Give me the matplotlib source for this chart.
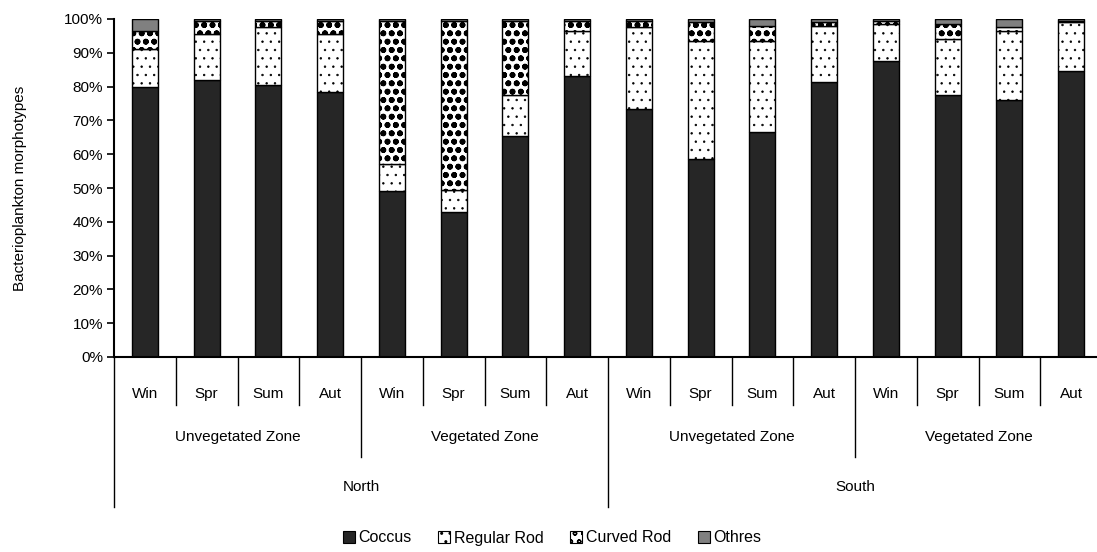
import matplotlib.pyplot as plt
import matplotlib.patches as mpatches
import matplotlib.transforms as mtransforms
import numpy as np

plt.rcParams['font.family'] = ['Liberation Sans', 'DejaVu Sans']

seasons = ['Win', 'Spr', 'Sum', 'Aut'] * 4
zones = ['Unvegetated Zone', 'Vegetated Zone', 'Unvegetated Zone', 'Vegetated Zone']
regions = ['North', 'South']

coccus = [80, 82, 80.5, 78.5, 49, 43, 65.5, 83,
          73.5, 58.5, 66.5, 81.5, 87.5, 77.5, 76, 84.5]
regular_rod = [11, 13.5, 17, 17, 8, 6.5, 12, 13.5,
               24, 35, 27, 16.5, 11, 16.5, 20.5, 14.5]
curved_rod = [5.5, 4, 2, 4, 42.5, 50, 22, 3,
              2, 5.5, 4.5, 1, 1, 4.5, 1, 0.5]
others = [3.5, 0.5, 0.5, 0.5, 0.5, 0.5, 0.5, 0.5,
          0.5, 1, 2, 1, 0.5, 1.5, 2.5, 0.5]

# name, values, face, hatch, hatch linewidth
series = [
    ('Coccus', coccus, '#262626', None, 1.0),
    ('Regular Rod', regular_rod, 'white', '..', 0.5),
    ('Curved Rod', curved_rod, 'white', 'oo', 1.8),
    ('Othres', others, '#808080', None, 1.0),
]

W, H = 1097, 552
fig = plt.figure(figsize=(W / 100, H / 100), dpi=100)
ax_w = 16 * 61.75
ax = fig.add_axes([114 / W, (H - 357) / H, ax_w / W, 338 / H])

x = np.arange(len(seasons))
bottom = np.zeros(len(seasons))
handles = []
for name, vals, color, hatch, hlw in series:
    vals = np.array(vals)
    bars = ax.bar(x, vals, width=0.42, bottom=bottom, color=color, edgecolor='black',
                  linewidth=1.0, hatch=hatch)
    h_patch = mpatches.Patch(facecolor=color, edgecolor='black', hatch=hatch,
                             linewidth=0.8, label=name)
    if hasattr(h_patch, 'set_hatch_linewidth'):
        for b in bars:
            b.set_hatch_linewidth(hlw)
        h_patch.set_hatch_linewidth(hlw)
    bottom += vals
    handles.append(h_patch)

ax.set_xlim(-0.5, len(seasons) - 0.5)
ax.set_ylim(0, 100)
ax.set_yticks(np.arange(0, 101, 10))
ax.set_yticklabels([f'{v}%' for v in range(0, 101, 10)], fontsize=11)
ax.tick_params(axis='y', direction='out', length=5, width=1.2, pad=3)
ax.set_xticks([])
for s in ['top', 'right']:
    ax.spines[s].set_visible(False)
ax.spines['left'].set_linewidth(1.5)
ax.spines['bottom'].set_linewidth(1.5)
ax.set_ylabel('Bacterioplankton morphotypes', fontsize=11)
ax.yaxis.set_label_coords(-87 / ax_w, 0.5)

# hierarchical category axis
trans = mtransforms.blended_transform_factory(ax.transData, ax.transAxes)
h = 338.0
for b in range(len(seasons) + 1):
    xb = b - 0.5
    if b % 8 == 0:
        y_end = -150 / h
    elif b % 4 == 0:
        y_end = -100 / h
    else:
        y_end = -48 / h
    ax.plot([xb, xb], [0, y_end], color='black', lw=1.0, transform=trans, clip_on=False)

for i, s in enumerate(seasons):
    ax.text(i, -37 / h, s, ha='center', va='center', fontsize=11, transform=trans)
for j, z in enumerate(zones):
    ax.text(4 * j + 1.5, -80 / h, z, ha='center', va='center', fontsize=11, transform=trans)
for k, r in enumerate(regions):
    ax.text(8 * k + 3.5, -130 / h, r, ha='center', va='center', fontsize=11, transform=trans)

fig.legend(handles=handles, loc='center', bbox_to_anchor=(552 / W, 1 - 538 / H),
           ncol=4, frameon=False, fontsize=11.5, handlelength=0.75, handleheight=0.75,
           handletextpad=0.2, columnspacing=1.7)

fig.savefig('out.png', dpi=100)
